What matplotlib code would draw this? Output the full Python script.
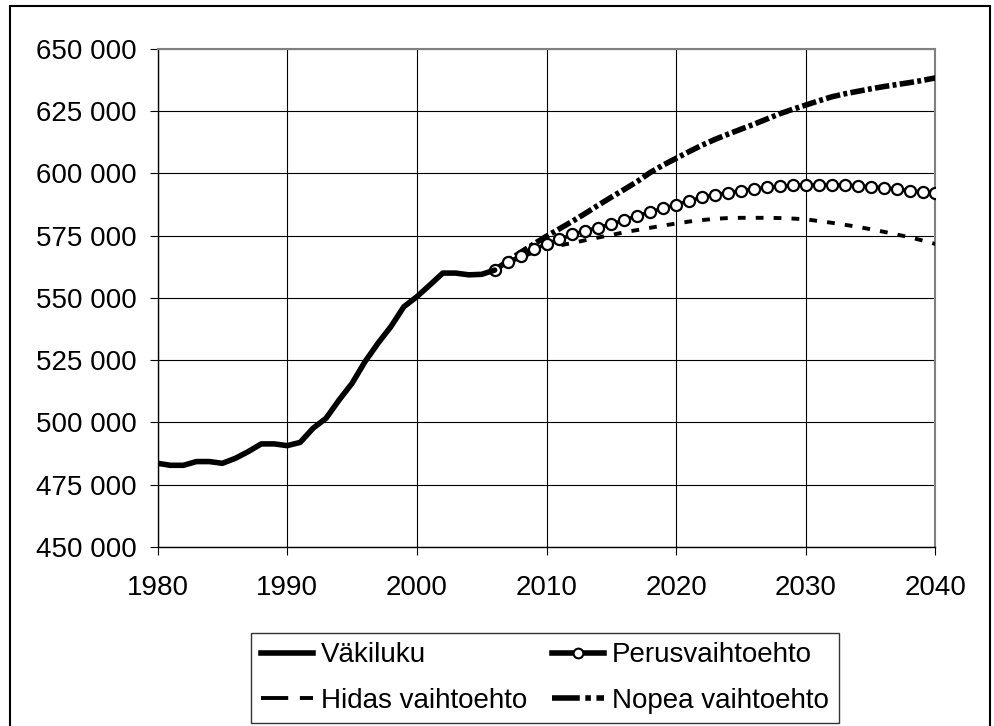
import matplotlib
matplotlib.use("Agg")
import matplotlib.pyplot as plt
from matplotlib.lines import Line2D
from matplotlib.patches import Rectangle
from matplotlib.ticker import FuncFormatter, MultipleLocator

plt.rcParams['font.family'] = ['Liberation Sans', 'DejaVu Sans']

# population history
hist_years = list(range(1980, 2007))
vakiluku = [483600, 482800, 482800, 484300, 484300, 483600, 485600, 488300,
            491400, 491400, 490700, 492000, 497700, 501700, 509000, 515700,
            524400, 531800, 538500, 546500, 550500, 555200, 560000, 560000,
            559300, 559500, 561200]

# projections
proj_years = list(range(2006, 2041))
perus = [561200, 564400, 567000, 569500, 571800, 573500, 575500, 577000,
         578300, 579600, 581300, 583000, 584600, 586000, 587500, 589000,
         590400, 591500, 592300, 593100, 593800, 594400, 594800, 595200,
         595400, 595400, 595400, 595300, 595100, 594700, 594300, 593700,
         593100, 592700, 592100]
hidas = [561200, 564000, 566300, 568300, 570000, 571100, 572100, 573200,
         574300, 575300, 576400, 577300, 578200, 579100, 579900, 580700,
         581300, 581800, 582100, 582200, 582200, 582200, 582100, 581900,
         581600, 580900, 580200, 579400, 578600, 577600, 576600, 575500,
         574400, 573100, 571700]
nopea = [561200, 564800, 568300, 571600, 574800, 577800, 580800, 584000,
         587300, 590500, 593600, 596800, 600400, 603400, 606100, 608800,
         611400, 613700, 615800, 617800, 619800, 621900, 624000, 625800,
         627500, 629200, 630800, 632000, 633000, 634000, 634900, 635700,
         636500, 637400, 638400]

labels = ['Väkiluku', 'Perusvaihtoehto', 'Hidas vaihtoehto', 'Nopea vaihtoehto']

fig = plt.figure(figsize=(9.95, 7.26), dpi=100)
ax = fig.add_axes([0.1583, 0.2466, 0.7819, 0.6859])

ax.plot(proj_years, hidas, color='black', lw=2.8, dashes=(2, 2.6), zorder=3)
ax.plot(proj_years, nopea, color='black', lw=4, dashes=(2.6, 0.6, 0.7, 0.6), zorder=3)
ax.plot(proj_years, perus, color='black', lw=2.6, marker='o', markersize=8,
        markerfacecolor='white', markeredgecolor='black', markeredgewidth=1.6, zorder=4)
ax.plot(hist_years, vakiluku, color='black', lw=4, zorder=5, solid_capstyle='round')

ax.set_xlim(1980, 2040)
ax.set_ylim(450000, 650000)
ax.xaxis.set_major_locator(MultipleLocator(10))
ax.yaxis.set_major_locator(MultipleLocator(25000))
ax.yaxis.set_major_formatter(FuncFormatter(lambda v, p: f'{int(v):,}'.replace(',', ' ')))
ax.grid(True, color='black', lw=0.8)
ax.set_axisbelow(True)

ax.tick_params(axis='both', labelsize=20, direction='out', length=6, width=0.8, color='black')
ax.tick_params(axis='y', pad=9)
ax.tick_params(axis='x', pad=14)

for s in ['left', 'bottom']:
    ax.spines[s].set_color('black')
    ax.spines[s].set_linewidth(1)
for s in ['top', 'right']:
    ax.spines[s].set_color('#808080')
    ax.spines[s].set_linewidth(1.5)

# legend with proxy handles (longer dashes like the original)
handles = [
    Line2D([], [], color='black', lw=4),
    Line2D([], [], color='black', lw=4, marker='o', markersize=7,
           markerfacecolor='white', markeredgewidth=1.5),
    Line2D([], [], color='black', lw=2.8, dashes=(7, 3)),
    Line2D([], [], color='black', lw=4, dashes=(5, 1, 1, 1)),
]
# column-first filling: reorder so rows read Väkiluku/Perus, Hidas/Nopea
order = [0, 2, 1, 3]
leg = fig.legend([handles[i] for i in order], [labels[i] for i in order],
                 ncol=2, loc='center',
                 bbox_to_anchor=(545 / 995, 1 - 678 / 726),
                 fontsize=20, frameon=True, fancybox=False,
                 handlelength=1.85, handletextpad=0.3, columnspacing=0.9,
                 labelspacing=0.7, borderpad=0.35, borderaxespad=0)
leg.get_frame().set_edgecolor('black')
leg.get_frame().set_linewidth(1)

# outer chart border
fig.patches.append(Rectangle((10 / 995, -0.02), 980 / 995, 1.02 - 5.5 / 726,
                             transform=fig.transFigure, fill=False,
                             edgecolor='black', lw=1.5, clip_on=False))

fig.savefig('out.png', dpi=100)
